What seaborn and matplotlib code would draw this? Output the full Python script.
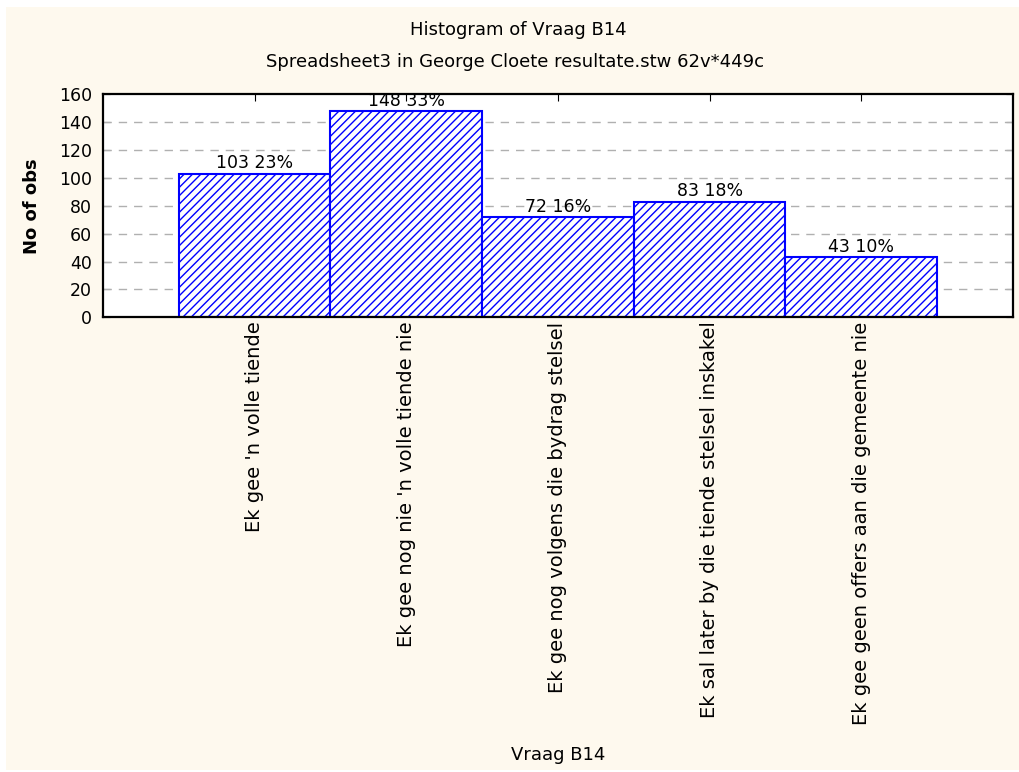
import matplotlib
matplotlib.use("Agg")
import matplotlib.pyplot as plt
from matplotlib.patches import Rectangle
import seaborn as sns
import pandas as pd

# data
categories = [
    "Ek gee 'n volle tiende",
    "Ek gee nog nie 'n volle tiende nie",
    "Ek gee nog volgens die bydrag stelsel",
    "Ek sal later by die tiende stelsel inskakel",
    "Ek gee geen offers aan die gemeente nie",
]
counts = [103, 148, 72, 83, 43]
percents = [23, 33, 16, 18, 10]
yticks = [0, 20, 40, 60, 80, 100, 120, 140, 160]

df = pd.DataFrame({"answer": categories, "n": counts})

sns.set_style("white")
plt.rcParams["font.family"] = ["DejaVu Sans"]
plt.rcParams["text.color"] = "black"
plt.rcParams["axes.labelcolor"] = "black"
plt.rcParams["xtick.color"] = "black"
plt.rcParams["ytick.color"] = "black"

cream = "#fef9ee"
fig = plt.figure(figsize=(10.19, 7.72), dpi=100, facecolor="white")
# cream panel with thin white margin at top/left
fig.add_artist(Rectangle((6 / 1019, 2 / 772), 1, 1 - 9 / 772,
                         transform=fig.transFigure, facecolor=cream,
                         edgecolor="none", zorder=-10))

ax = fig.add_axes([0.101, 0.589, 0.893, 0.289])
ax.set_facecolor("white")

sns.barplot(data=df, x="answer", y="n", color="white", edgecolor="#0000ff",
            linewidth=1.5, width=1.0, hatch="////", saturation=1, ax=ax, zorder=2)

ax.bar_label(ax.containers[0], labels=[f"{c} {p}%" for c, p in zip(counts, percents)],
             fontsize=12.5, padding=1)

ax.set_xlim(-1, 5)
ax.set_ylim(0, 160)
ax.set_yticks(yticks)
for y in yticks[1:-1]:
    ax.axhline(y, color="#b0b0b0", lw=1, ls=(0, (6, 5)), zorder=1)

ax.tick_params(axis="y", direction="in", left=True, right=True, length=5,
               labelsize=12.5, pad=8)
ax.tick_params(axis="x", direction="in", top=True, bottom=False, length=5,
               labelsize=14, pad=3)
plt.setp(ax.get_xticklabels(), rotation=90, va="top", ha="center")

for s in ax.spines.values():
    s.set_linewidth(1.6)
    s.set_color("black")

ax.set_ylabel("No of obs", fontsize=13, fontweight="semibold")
ax.yaxis.set_label_coords(-0.068, 0.5)
ax.set_xlabel("Vraag B14", fontsize=13)
ax.xaxis.set_label_coords(0.5, -1.92)

fig.text(0.509, 0.961, "Histogram of Vraag B14", ha="center", va="center", fontsize=13)
fig.text(0.505, 0.92, "Spreadsheet3 in George Cloete resultate.stw 62v*449c",
         ha="center", va="center", fontsize=13)

fig.savefig("out.png", dpi=100, facecolor=fig.get_facecolor())
